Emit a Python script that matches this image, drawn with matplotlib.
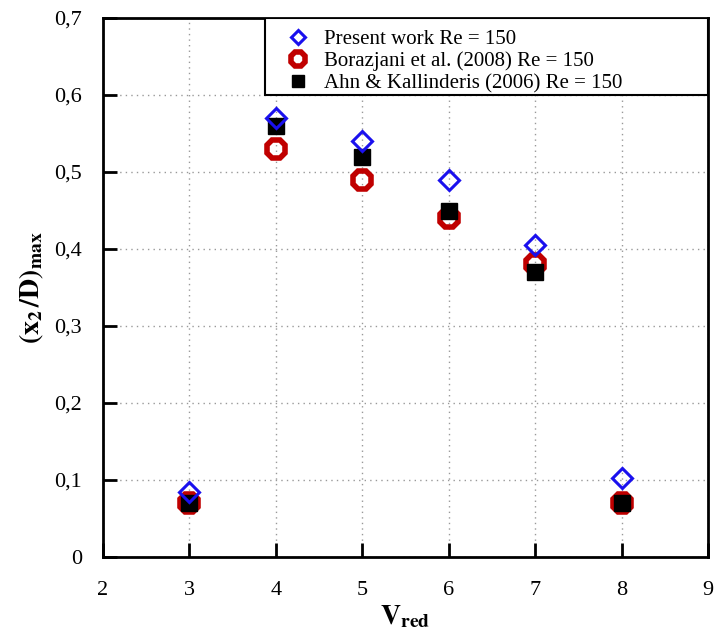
import numpy as np
import matplotlib
matplotlib.use('Agg')
from matplotlib import pyplot as plt
from matplotlib.ticker import FuncFormatter
from matplotlib.patches import Rectangle

plt.rcParams['font.family'] = ['Liberation Serif', 'DejaVu Serif']
plt.rcParams['mathtext.fontset'] = 'stix'

v_red = [3, 4, 5, 6, 7, 8]
present = [0.085, 0.57, 0.54, 0.49, 0.405, 0.102]
borazjani = [0.07, 0.53, 0.49, 0.44, 0.38, 0.07]
ahn = [0.07, 0.56, 0.52, 0.45, 0.37, 0.07]

x_ticks = [2, 3, 4, 5, 6, 7, 8, 9]
y_ticks = [0, 0.1, 0.2, 0.3, 0.4, 0.5, 0.6, 0.7]

fig = plt.figure(figsize=(7.16, 6.37), dpi=100)
ax = fig.add_axes([0.1439, 0.1256, 0.8449, 0.8461])

h2, = ax.plot(v_red, borazjani, linestyle='none', marker='8', ms=14,
              mfc='none', mec='#c00000', mew=4, label='Borazjani et al. (2008) Re = 150')
h3, = ax.plot(v_red, ahn, linestyle='none', marker='s', ms=12,
              mfc='black', mec='black', label='Ahn & Kallinderis (2006) Re = 150')
h1, = ax.plot(v_red, present, linestyle='none', marker='D', ms=10,
              mfc='none', mec='#1a10ee', mew=2.2, label='Present work Re = 150')

ax.set_xlim(2, 9)
ax.set_ylim(0, 0.7)
ax.set_xticks(x_ticks)
ax.set_yticks(y_ticks)

def comma(v, pos):
    if abs(v) < 1e-9:
        return '0'
    return ('%.1f' % v).replace('.', ',')

ax.yaxis.set_major_formatter(FuncFormatter(comma))
ax.tick_params(direction='in', length=10, width=2, labelsize=16)
ax.tick_params(axis='x', pad=17)
ax.tick_params(axis='y', pad=15)
for s in ax.spines.values():
    s.set_linewidth(2)

ax.grid(True, linestyle=(0, (1, 3)), color='#999999', linewidth=1)

ax.set_xlabel(r'$\mathbf{V}_{\mathbf{red}}$', fontsize=20, labelpad=3)
ax.set_ylabel(r'$\mathbf{(x}_{\mathbf{2}}\mathbf{\,/D)}_{\mathbf{max}}$', fontsize=20, labelpad=6)

# legend box spans to the right edge of the axes
box = Rectangle((0.268, 0.857), 0.732, 0.143, transform=ax.transAxes,
                facecolor='white', edgecolor='black', linewidth=1.5, zorder=4)
ax.add_patch(box)
leg = ax.legend(handles=[h1, h2, h3], loc='upper left', bbox_to_anchor=(0.27, 1.01),
                fontsize=15, frameon=False, handletextpad=0.55, labelspacing=0.12,
                borderpad=0.3, handlelength=1.4, markerscale=0.75)
leg.set_zorder(5)

fig.savefig('out.png', dpi=100)
